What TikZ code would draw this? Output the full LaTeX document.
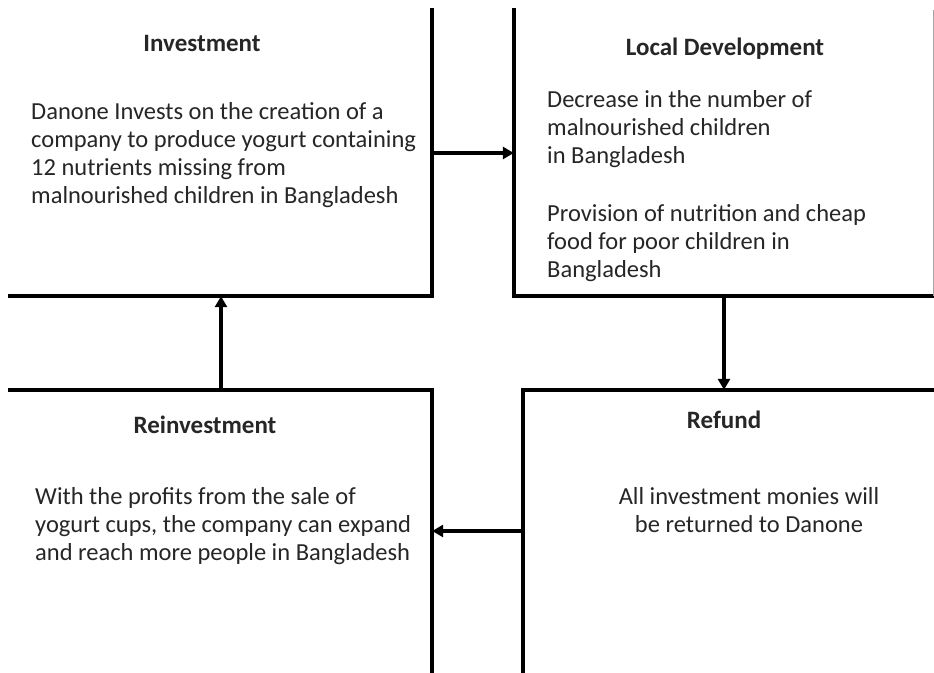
\documentclass[tikz,border=0pt]{standalone}
\usepackage{fontspec}
\setmainfont{Carlito}
\usetikzlibrary{arrows.meta}
\begin{document}
\begin{tikzpicture}[x=1pt,y=-1pt,
  area/.style={draw=none,inner sep=0pt,rectangle},
  edge/.style={line width=4pt,line cap=rect,black},
  flow/.style={line width=4pt,black,-{Triangle[length=11pt,width=12pt]}},
  ttl/.style={inner sep=0pt,font=\bfseries\fontsize{25}{28}\selectfont,text=black!85},
  body/.style={inner sep=0pt,font=\fontsize{24.5}{28}\selectfont,text=black!85,align=left,anchor=north west}]
\useasboundingbox (0,0) rectangle (934,672);
\fill[white] (0,0) rectangle (934,672);
% box areas
\node[area,minimum width=422pt,minimum height=286pt] (inv) at (221,153) {};
\node[area,minimum width=420pt,minimum height=286pt] (dev) at (724,153) {};
\node[area,minimum width=422pt,minimum height=282pt] (rei) at (221,531) {};
\node[area,minimum width=411pt,minimum height=282pt] (ref) at (728.5,531) {};
% visible borders
\draw[edge] (inv.north east) -- (inv.south east) -- (inv.south west);
\draw[edge] (dev.north west) -- (dev.south west) -- (dev.south east);
\draw[black!35,line width=1pt] (933,10) -- (933,296);
\draw[edge] (rei.north west) -- (rei.north east) -- (rei.south east);
\draw[edge] (ref.south west) -- (ref.north west) -- (ref.north east);
% connectors
\draw[flow] (inv.east) -- (dev.west);
\draw[flow] (dev.south) -- (dev.south |- ref.north);
\draw[flow] (ref.west) -- (rei.east);
\draw[flow] (rei.north) -- (rei.north |- inv.south);
% titles
\node[ttl,anchor=base] (t1) at (202,51) {Investment};
\node[ttl,anchor=base] (t2) at (725,55) {Local Development};
\node[ttl,anchor=base] (t3) at (205,433) {Reinvestment};
\node[ttl,anchor=base] (t4) at (724,428) {Refund};
% bodies
\node[body] (b1) at (31,102) {Danone Invests on the creation of a\\company to produce yogurt containing\\12 nutrients missing from\\malnourished children in Bangladesh};
\node[body] (b2) at (547,90) {Decrease in the number of\\malnourished children\\in Bangladesh\\[30pt]Provision of nutrition and cheap\\food for poor children in\\Bangladesh};
\node[body] (b3) at (35,487) {With the profits from the sale of\\yogurt cups, the company can expand\\and reach more people in Bangladesh};
\node[body,anchor=north,align=center] (b4) at (749,487) {All investment monies will\\be returned to Danone};
\end{tikzpicture}
\end{document}
